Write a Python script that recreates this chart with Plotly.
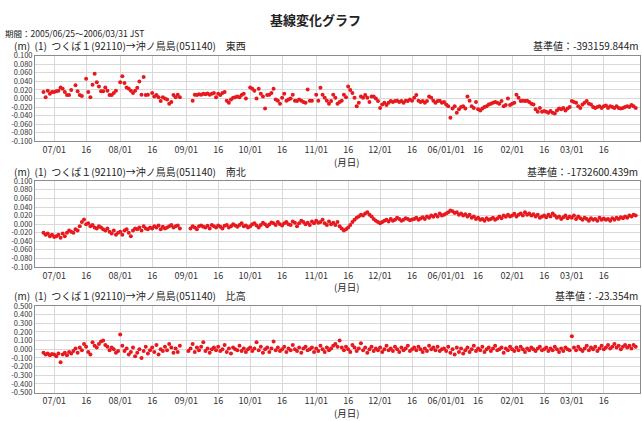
import pandas as pd
import plotly.graph_objects as go

# Daily observation dates (one slot per day, None = no solution that day)
days = pd.date_range("2005-06-25", "2006-03-31", freq="D")

# East-West component, mm
ew_mm = [
    None, 15, 3, 18, 11, 15,
    15, 17, 18, 26, 23, 15, 8, 8, 20, None, 31, 17, 8, 6, None,
    46, 15, 3, 32, 58, 38, 28, 17, 17, 26, 18, 8, 8, 13, 18, None,
    38, 52, 36, 26, 23, 18, 13, 18, 25, 40, 9, 50, 8, 9, None,
    13, 5, 8, 3, -6, 3, 0, -2, -12, -8, 8, 3, 9, 3, None, None,
    None, None, None, -5, 9, 8, 10, 9, 11, 10, 12, 9, 11, 13, 3,
    11, 8, 13, 15, -5, -10, -2, 2, 3, 5, 3, 8, 11, 0, None,
    26, 23, 18, 0, 23, 11, 5, -23, 8, 9, 13, 23, -2, -5, -12,
    2, 11, -5, -2, 0, 9, -5, -6, -2, -5, -8, -10, 21, -5, -5, None,
    9, -5, 25, 9, 2, -5, -12, -6, 9, 2, -12, -8, -5, 9, 3,
    28, 20, 13, 2, -18, -10, 5, 2, 8, 2, -8, 5, 5, 0, -6,
    -22, -14, -10, -15, -10, -6, -8, -6, -5, -8, -6, -10, -5, -6, -2, -5,
    2, 8, -5, -8, -6, -10, -6, 5, 2, -5, -10, -6, -5, -10, -8,
    -14, -18, -45, -23, -18, -33, -25, -20, -18, -23, 5, -5, -18, -22, -8,
    -25, -28, -23, -20, -18, -14, -12, -10, -8, -10, -12, -6, -18, -15, 0, -15,
    -12, -10, 9, 2, -6, -5, -6, -5, -8, -12, -14, -25, -31, -22, -31,
    -29, -31, -33, -29, -33, -35, -28, -23, -25, -22, -28, -23, -20,
    -6, -8, -10, -18, -22, -14, -10, -6, -12, -14, -20, -22, -20, -18, -22, -18,
    -16, -22, -18, -20, -22, -18, -22, -23, -22, -20, -18, -20, -15, -18, -22,
]

# North-South component, mm
ns_mm = [
    None, -20, -25, -22, -28, -25,
    -30, -28, -25, -32, -22, -28, -20, -15, -18, -20, -12, -15, -5, 5, 11,
    0, 2, -5, -2, -8, -10, -5, -8, -12, -15, -10, -18, -22, -15, -25, -20,
    -18, -25, -15, -12, -20, -28, -15, -10, -12, -8, -15, -5, -10, -12, -8,
    -10, -5, -8, -3, -12, -6, -10, -8, -5, -2, -8, -5, -3, -10, None, None,
    None, None, -10, -5, -8, -12, -5, -3, -6, -8, -4, -10, -2, -5, -8,
    -3, -6, -10, -4, -2, -8, -5, 0, -3, -6, -2, 2, -5, -3, -8,
    -5, 0, 2, -3, -8, -2, 3, 0, -5, -1, 4, 2, -2, 5, 0,
    -3, 2, 5, 0, -2, 6, 3, -5, 2, 8, 5, 0, 3, -2, 6, 2,
    8, 3, 5, 10, 2, -2, 6, 0, 3, -2, 5, -5, -10, -15, -12,
    -8, -2, 5, 10, 15, 18, 22, 20, 25, 28, 22, 18, 12, 8, 5,
    2, 5, 8, 10, 6, 12, 8, 10, 15, 12, 8, 10, 14, 12, 9, 11,
    12, 15, 10, 13, 16, 12, 18, 15, 20, 17, 22, 18, 25, 20, 22,
    25, 28, 32, 30, 26, 28, 22, 25, 20, 23, 18, 22, 15, 18, 12,
    15, 10, 12, 8, 14, 10, 12, 15, 10, 13, 18, 14, 20, 17, 22, 18,
    20, 24, 18, 22, 25, 20, 28, 22, 25, 20, 23, 18, 22, 15, 18,
    20, 16, 22, 18, 25, 20, 15, 18, 12, 16, 20, 14, 18,
    15, 20, 12, 18, 14, 10, 15, 12, 8, 14, 10, 12, 8, 15, 10, 13,
    10, 12, 8, 14, 10, 15, 12, 16, 14, 18, 15, 20, 18, 22, 20,
]

# Vertical (height) component, mm
up_mm = [
    None, -40, -60, -50, -70, -55,
    -60, -80, -50, -150, -60, -40, -70, -30, -50, -20, 10, -40, 20, -10, 60,
    30, -30, -60, 80, 40, 20, 60, 90, 100, 50, 30, -10, 20, 0, -40, -20,
    170, 40, -20, 10, -60, -30, 20, -80, -40, 0, -100, -20, 30, -50, -10,
    20, -30, 50, -60, 0, -20, 30, -10, 60, 20, -40, 10, -30, 40, None, None,
    None, -20, 10, 60, -30, 20, -10, 30, 80, -20, 10, -40, 0, 20, -10,
    30, -20, 0, 50, -30, 10, -50, 20, 0, -10, 40, -20, 10, -30, 0,
    20, -20, 10, 80, -10, 30, -40, 0, 20, -30, 10, 90, -10, 20, -20,
    0, 30, -30, 10, -10, 50, 0, -20, 20, -40, 10, 30, -10, 0, 20, -30,
    10, -20, 40, 0, -30, 20, -10, 10, 40, 60, 30, 100, 20, -10, 30,
    0, -30, 50, 20, -20, 10, 70, -10, 20, -40, 0, 30, -20, 10, -10,
    20, -30, 0, 40, -10, 10, -20, 30, 0, -30, 20, -10, 10, 40, -20, 0,
    20, -10, 30, 0, -30, 10, -20, 40, 0, 20, -10, 30, -20, 0, 10,
    -20, 30, -40, 0, -60, 20, -30, 10, -50, -10, 20, -30, 0, 40, -20,
    10, -10, 30, -30, 0, 20, -20, 10, 40, -10, 0, 20, -40, 10, -10, 30,
    0, -20, 20, -10, 30, 0, -30, 10, -10, 20, 0, -20, 10, 30, -10,
    0, 20, -20, 10, -10, 30, 0, -30, 10, -20, 20, 0, -10,
    150, 20, -10, 30, 0, -20, 10, 40, -10, 20, 0, 30, -20, 10, 40, 0,
    20, 50, 10, 30, 60, 20, 40, 0, 30, 50, 20, 40, 10, 50, 30,
]

# Date ticks (1st and 16th of each month)
x_tick_dates = ["2005-07-01", "2005-07-16", "2005-08-01", "2005-08-16",
                "2005-09-01", "2005-09-16", "2005-10-01", "2005-10-16",
                "2005-11-01", "2005-11-16", "2005-12-01", "2005-12-16",
                "2006-01-01", "2006-01-16", "2006-02-01", "2006-02-16",
                "2006-03-01", "2006-03-16"]
x_tick_text = ["07/01", "16", "08/01", "16", "09/01", "16", "10/01", "16",
               "11/01", "16", "12/01", "16", "06/01/01", "16", "02/01", "16",
               "03/01", "16"]

y_ticks_small = [0.1, 0.08, 0.06, 0.04, 0.02, 0.0, -0.02, -0.04, -0.06, -0.08, -0.1]
y_ticks_large = [0.5, 0.4, 0.3, 0.2, 0.1, 0.0, -0.1, -0.2, -0.3, -0.4, -0.5]

panel_names = ["東西", "南北", "比高"]
reference_values = ["-393159.844m", "-1732600.439m", "-23.354m"]
baseline = "(m)  (1)  つくば１(92110)→沖ノ鳥島(051140)　"

for s in (ew_mm, ns_mm, up_mm):
    assert len(s) == len(days), len(s)


def to_m(vals):
    return [None if v is None else v / 1000.0 for v in vals]


def fmt(v):
    return f"{v:.3f}"


W, H = 642, 421
FONT = "Noto Sans CJK JP"
RED = "#e8191e"


def py(pix):
    return 1 - pix / H


# Pixel extents of each plot box (top, bottom)
boxes = [(51, 139), (180, 268), (308, 397)]
series = [to_m(ew_mm), to_m(ns_mm), to_m(up_mm)]
ranges = [[-0.1, 0.1], [-0.1, 0.1], [-0.5, 0.5]]
yticks = [y_ticks_small, y_ticks_small, y_ticks_large]

fig = go.Figure()
layout = dict(
    width=W, height=H,
    margin=dict(l=35, r=2, t=0, b=0),
    paper_bgcolor="white", plot_bgcolor="white",
    showlegend=False,
    font=dict(family=FONT, size=9, color="#333"),
)

annotations = [
    dict(text="<b>基線変化グラフ</b>", x=(315 - 35) / 605, y=py(14), xanchor="center",
         yanchor="middle", font=dict(size=13, color="#222")),
    dict(text="期間：2005/06/25～2006/03/31 JST", x=(3 - 35) / 605, y=py(28),
         xanchor="left", yanchor="middle", font=dict(size=8.5, color="#222")),
]

for i in range(3):
    n = i + 1
    xa = "xaxis" if n == 1 else f"xaxis{n}"
    ya = "yaxis" if n == 1 else f"yaxis{n}"
    top, bot = boxes[i]
    fig.add_trace(go.Scatter(
        x=days, y=series[i], mode="markers",
        marker=dict(color=RED, size=4, line=dict(width=0)),
        xaxis="x" if n == 1 else f"x{n}", yaxis="y" if n == 1 else f"y{n}",
    ))
    layout[xa] = dict(
        domain=[0, 1], anchor="y" if n == 1 else f"y{n}",
        range=["2005-06-22", "2006-04-02"], type="date",
        tickvals=x_tick_dates, ticktext=x_tick_text,
        showgrid=True, gridcolor="#d9d9d9", gridwidth=1,
        showline=True, linecolor="#8c8c8c", linewidth=1, mirror=True,
        ticks="", tickfont=dict(size=9, color="#333"), zeroline=False,
    )
    layout[ya] = dict(
        domain=[py(bot), py(top)], anchor="x" if n == 1 else f"x{n}",
        range=ranges[i], tickvals=yticks[i],
        ticktext=[fmt(v) for v in yticks[i]],
        showgrid=True, gridcolor="#d9d9d9", gridwidth=1,
        showline=True, linecolor="#8c8c8c", linewidth=1, mirror=True,
        ticks="", tickfont=dict(size=7.5, color="#333"), zeroline=False,
    )
    annotations.append(dict(
        text=baseline + panel_names[i], x=(12 - 35) / 605, y=py(top - 10.5),
        xanchor="left", yanchor="middle", font=dict(size=10, color="#222")))
    annotations.append(dict(
        text="基準値：" + reference_values[i], x=1, y=py(top - 10.5),
        xanchor="right", yanchor="middle", font=dict(size=10, color="#222")))
    annotations.append(dict(
        text="(月日)", x=(346 - 35) / 605, y=py(bot + 21),
        xanchor="center", yanchor="middle", font=dict(size=9.5, color="#222")))

for a in annotations:
    a.update(xref="paper", yref="paper", showarrow=False)
layout["annotations"] = annotations

fig.update_layout(**layout)
fig.write_html("out.html")
